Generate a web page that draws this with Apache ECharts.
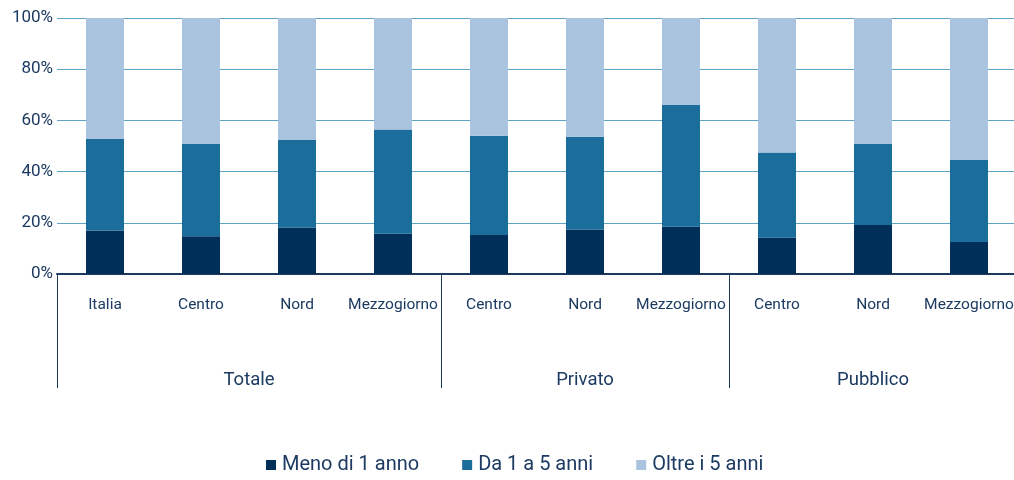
<!DOCTYPE html>
<html>
<head>
<meta charset="utf-8">
<script src="https://cdn.jsdelivr.net/npm/echarts@6/dist/echarts.min.js"></script>
<style>
  html, body { margin: 0; padding: 0; background: #ffffff; }
  #chart { width: 1014px; height: 480px; }
</style>
</head>
<body>
<div id="chart"></div>
<script>
// Area categories, grouped by sector
const categories = ['Italia', 'Centro', 'Nord', 'Mezzogiorno', 'Centro', 'Nord', 'Mezzogiorno', 'Centro', 'Nord', 'Mezzogiorno'];
const groups = ['Totale', 'Privato', 'Pubblico'];
const groupSizes = [4, 3, 3];

// Share of contracts by duration (%)
const menoDi1Anno = [17, 14.7, 18.1, 15.7, 15.2, 17.4, 18.5, 14.2, 19.1, 12.5];
const da1a5Anni   = [35.7, 36.1, 34.2, 40.7, 38.8, 36.2, 47.5, 33.3, 31.7, 32.0];
const oltre5Anni  = [47.3, 49.2, 47.7, 43.6, 46.0, 46.4, 34.0, 52.5, 49.2, 55.5];

const seriesNames = ['Meno di 1 anno', 'Da 1 a 5 anni', 'Oltre i 5 anni'];
const yTicks = [0, 20, 40, 60, 80, 100];

const FONT = "'Roboto', sans-serif";
const TEXT = '#1c3a62';
const NAVY = '#1e3a5f';

// Half-slot axis for the group row: 2 slots per category, points on boundaries
const groupSlots = [];
const groupLabelAt = {};
const groupTickAt = {};
let pos = 0;
groups.forEach((g, i) => {
  groupTickAt[pos] = true;
  groupLabelAt[pos + groupSizes[i]] = g;
  pos += groupSizes[i] * 2;
});
for (let i = 0; i <= pos; i++) groupSlots.push(groupLabelAt[i] || '');

const chart = echarts.init(document.getElementById('chart'), null, { renderer: 'canvas' });

chart.setOption({
  animation: false,
  textStyle: { fontFamily: FONT },
  grid: { left: 57, top: 18, width: 960, height: 256, containLabel: false, outerBoundsMode: 'none' },
  legend: {
    data: seriesNames,
    left: 266,
    top: 455,
    padding: 0,
    itemWidth: 10,
    itemHeight: 10,
    itemGap: 43,
    icon: 'rect',
    textStyle: { fontFamily: FONT, fontSize: 20, color: TEXT, padding: [0, 0, 0, 1] }
  },
  xAxis: [
    {
      type: 'category',
      data: categories,
      position: 'bottom',
      axisLine: { show: true, lineStyle: { color: NAVY, width: 2 } },
      axisTick: { show: false },
      axisLabel: { interval: 0, margin: 23, fontFamily: FONT, fontSize: 15.5, color: TEXT }
    },
    {
      type: 'category',
      data: groupSlots,
      position: 'bottom',
      boundaryGap: false,
      axisLine: { show: false },
      axisTick: {
        show: true,
        length: 114,
        interval: (idx) => !!groupTickAt[idx],
        lineStyle: { color: NAVY, width: 1 }
      },
      axisLabel: {
        interval: 0,
        margin: 97,
        fontFamily: FONT,
        fontSize: 18.5,
        color: TEXT
      },
      splitLine: { show: false }
    }
  ],
  yAxis: {
    type: 'value',
    min: yTicks[0],
    max: yTicks[yTicks.length - 1],
    interval: 20,
    axisLine: { show: false },
    axisTick: { show: false },
    axisLabel: { formatter: '{value}%', margin: 4, fontFamily: FONT, fontSize: 17, color: TEXT },
    splitLine: { show: true, lineStyle: { color: '#5ea3c3', width: 1 } }
  },
  series: [
    { name: seriesNames[0], type: 'bar', stack: 'tot', xAxisIndex: 0, barWidth: 38, data: menoDi1Anno, itemStyle: { color: '#002f5a' } },
    { name: seriesNames[1], type: 'bar', stack: 'tot', xAxisIndex: 0, barWidth: 38, data: da1a5Anni,   itemStyle: { color: '#1b6d9b' } },
    { name: seriesNames[2], type: 'bar', stack: 'tot', xAxisIndex: 0, barWidth: 38, data: oltre5Anni,  itemStyle: { color: '#aac4e0' } }
  ]
});
</script>
</body>
</html>
